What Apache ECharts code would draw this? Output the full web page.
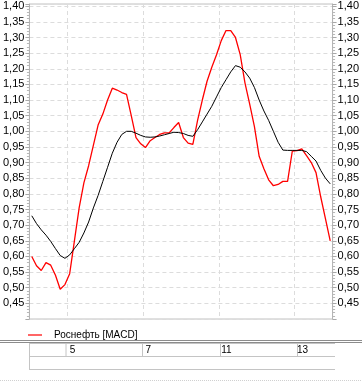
<!DOCTYPE html>
<html><head><meta charset="utf-8">
<script src="https://cdn.jsdelivr.net/npm/echarts@6/dist/echarts.min.js"></script>
<style>html,body{margin:0;padding:0;background:#fff}#c{width:362px;height:382px}</style>
</head><body><div id="c"></div>
<script>
const days = ['4','5','6','7','8','11','12','13'];
const pointsPerDay = 8;
const tickLabels = ['5','7','11','13'];
const seriesName = 'Роснефть [MACD]';
const macd = [0.60,0.57,0.555,0.58,0.572,0.54,0.495,0.51,
  0.545,0.65,0.755,0.835,0.89,0.955,1.02,1.055,
  1.10,1.138,1.132,1.124,1.118,1.05,0.98,0.96,
  0.948,0.97,0.98,0.99,0.995,0.995,1.012,1.028,
  0.98,0.962,0.958,1.035,1.10,1.16,1.205,1.245,
  1.29,1.322,1.322,1.30,1.245,1.155,1.087,1.015,
  0.92,0.88,0.845,0.826,0.83,0.84,0.84,0.937,
  0.938,0.944,0.922,0.90,0.868,0.79,0.72,0.65];
const signal = [0.73,0.705,0.685,0.668,0.648,0.625,0.603,0.594,
  0.605,0.625,0.645,0.675,0.71,0.755,0.795,0.84,
  0.885,0.93,0.965,0.99,1.0,1.0,0.994,0.987,
  0.982,0.981,0.982,0.985,0.989,0.993,0.997,0.996,
  0.993,0.987,0.984,1.005,1.03,1.055,1.08,1.11,
  1.14,1.165,1.19,1.21,1.205,1.19,1.17,1.14,
  1.10,1.065,1.035,1.0,0.965,0.94,0.939,0.939,
  0.939,0.939,0.935,0.92,0.905,0.875,0.85,0.832];

const categories = [];
days.forEach(d => { for (let k = 0; k < pointsPerDay; k++) categories.push(d); });
const isDayStart = (i) => i > 0 && categories[i-1] !== categories[i] && tickLabels.includes(categories[i]);

const FONT = 'Liberation Sans Narrow, Liberation Sans, Arial, sans-serif';
const fmt = v => (v < 0.449 || v > 1.401) ? '' : v.toFixed(2).replace('.', ',');
const yCommon = {
  type: 'value', min: 0.40, max: 1.407, interval: 0.05,
  axisLine: {show: true, lineStyle: {color: '#b4b4b4', width: 1}},
  axisTick: {show: true, length: 4, lineStyle: {color: '#a8a8a8'}},
  minorTick: {show: true, splitNumber: 5, length: 2.5, lineStyle: {color: '#b8b8b8'}},
  axisLabel: {formatter: fmt, color: '#000', fontSize: 11, fontFamily: FONT, margin: 5}
};

const chart = echarts.init(document.getElementById('c'), null, {renderer: 'canvas'});
const tableLeft = 29, tableRight = 335;
const sepX = [66, 142.5, 220.5, 297.5];
const graphics = [
  {type: 'line', shape: {x1: 0, y1: 340.5, x2: 362, y2: 340.5}, style: {stroke: '#8c8c8c', lineWidth: 1.2}},
  {type: 'line', shape: {x1: 0, y1: 342.5, x2: 362, y2: 342.5}, style: {stroke: '#8c8c8c', lineWidth: 1}},
  {type: 'line', shape: {x1: tableLeft, y1: 343.5, x2: tableRight, y2: 343.5}, style: {stroke: '#c4c4c4', lineWidth: 1}},
  {type: 'line', shape: {x1: tableLeft, y1: 356.5, x2: tableRight, y2: 356.5}, style: {stroke: '#c4c4c4', lineWidth: 1}},
  {type: 'line', shape: {x1: tableLeft, y1: 369.5, x2: tableRight, y2: 369.5}, style: {stroke: '#c4c4c4', lineWidth: 1}},
  {type: 'line', shape: {x1: tableLeft + 0.5, y1: 343, x2: tableLeft + 0.5, y2: 370}, style: {stroke: '#c4c4c4', lineWidth: 1}},
  {type: 'line', shape: {x1: 0, y1: 380.5, x2: 362, y2: 380.5}, style: {stroke: '#d0d0d0', lineWidth: 1, lineDash: [1, 1]}}
];
sepX.forEach(x => graphics.push({type: 'line', shape: {x1: x, y1: 343, x2: x, y2: 357}, style: {stroke: '#c4c4c4', lineWidth: 1}}));

chart.setOption({
  animation: false,
  backgroundColor: '#fff',
  grid: {left: 28, right: 27, top: 4, bottom: 63, show: true, borderColor: '#c0c0c0', borderWidth: 1},
  legend: {
    data: [seriesName], left: 23, top: 325, icon: 'rect', itemWidth: 14, itemHeight: 1.2,
    textStyle: {color: '#000', fontSize: 10, fontFamily: 'Liberation Sans, Arial, sans-serif', padding: [0, 0, 0, 7]}
  },
  xAxis: {
    type: 'category', data: categories, boundaryGap: true,
    axisLine: {show: false}, axisTick: {show: false},
    axisLabel: {interval: (i) => isDayStart(i), align: 'left', margin: 26, color: '#000', fontSize: 10, fontFamily: 'Liberation Sans, Arial, sans-serif'},
    splitLine: {show: true, interval: (i) => isDayStart(i), lineStyle: {color: '#dcdcdc', type: [4, 3]}}
  },
  yAxis: [
    Object.assign({}, yCommon, {position: 'left', splitLine: {show: true, lineStyle: {color: '#dcdcdc', type: [4, 3]}}}),
    Object.assign({}, yCommon, {position: 'right', splitLine: {show: false}})
  ],
  series: [
    {name: seriesName, type: 'line', data: macd, symbol: 'none', lineStyle: {color: '#ff0000', width: 1.3}, itemStyle: {color: '#ff0000'}},
    {name: 'signal', type: 'line', data: signal, symbol: 'none', lineStyle: {color: '#000', width: 1}, itemStyle: {color: '#000'}}
  ],
  graphic: graphics
});
</script></body></html>
